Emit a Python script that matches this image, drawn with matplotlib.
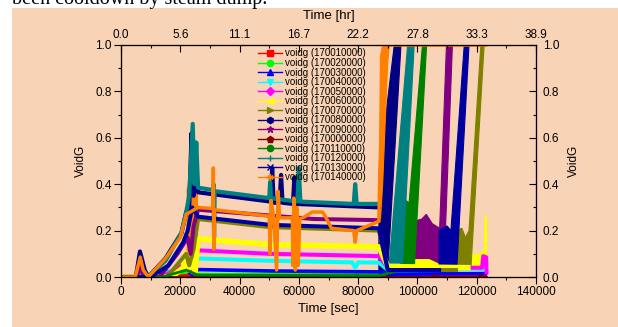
import matplotlib
matplotlib.use("Agg")
import matplotlib.pyplot as plt
from matplotlib.lines import Line2D
from matplotlib.patches import Rectangle
from matplotlib.ticker import MultipleLocator, FormatStrFormatter

plt.rcParams['font.family'] = ['Liberation Sans', 'DejaVu Sans']

# legend names
names = ["voidg (170010000)", "voidg (170020000)", "voidg (170030000)", "voidg (170040000)",
         "voidg (170050000)", "voidg (170060000)", "voidg (170070000)", "voidg (170080000)",
         "voidg (170090000)", "voidg (170000000)", "voidg (170110000)", "voidg (170120000)",
         "voidg (170130000)", "voidg (170140000)"]

sec_ticks = [0, 20000, 40000, 60000, 80000, 100000, 120000, 140000]
hr_labels = ["0.0", "5.6", "11.1", "16.7", "22.2", "27.8", "33.3", "38.9"]

# time [s] / void fraction (noisy bands -> envelope knots)
t_s01 = [0, 9000, 22000, 26000, 87000, 123000]
v_s01 = [0.0, 0.0, 0.01, 0.005, 0.005, 0.005]

t_s02 = [0, 9000, 22000, 26000, 87000, 90000, 123000]
v_s02 = [0.0, 0.0, 0.02, 0.013, 0.011, 0.015, 0.015]

t_s03 = [0, 10000, 21000, 24000, 26000, 50000, 87000, 90000, 123000]
v_s03 = [0.0, 0.0, 0.04, 0.01, 0.032, 0.026, 0.022, 0.012, 0.015]

t_s04 = [0, 12000, 22000, 24000, 26000, 50000, 78000, 79000, 80000, 87000, 90000, 123000]
v_s04 = [0.0, 0.0, 0.05, 0.02, 0.08, 0.07, 0.063, 0.04, 0.063, 0.062, 0.03, 0.035]

t_s05 = [0, 14000, 22000, 24000, 26000, 50000, 87000, 90000, 121800, 122200, 123200, 123300]
v_s05 = [0.0, 0.0, 0.06, 0.02, 0.115, 0.10, 0.09, 0.04, 0.04, 0.09, 0.085, 0.02]

t_s06 = [0, 17000, 21000, 21800, 22500, 23500, 25000, 26000, 50000, 87000, 90000, 117000]
v_s06 = [0.0, 0.0, 0.04, 0.1, 0.03, 0.08, 0.02, 0.165, 0.14, 0.13, 0.045, 0.04]
bx_s06a = [95000, 95000, 100000, 104000, 108000, 108000]
by_s06a = [0.03, 0.08, 0.09, 0.085, 0.065, 0.03]
bx_s06b = [117400, 117400, 120000, 122500, 122900, 123300, 123300]
by_s06b = [0.03, 0.10, 0.095, 0.11, 0.27, 0.25, 0.03]

t_s07 = [0, 15500, 22000, 23000, 24500, 26000, 50000, 87000, 90000, 113000]
v_s07 = [0.0, 0.0, 0.1, 0.05, 0.12, 0.25, 0.215, 0.20, 0.03, 0.03]
bx_s07 = [113000, 113000, 115000, 116200, 117400, 121400, 122500, 118000]
by_s07 = [0.03, 0.2, 0.21, 0.17, 0.2, 1.0, 1.0, 0.03]

t_s08 = [0, 5000, 6400, 8000, 9200, 15000, 20400, 22000, 23000, 23800, 24500, 25200, 26000,
         50500, 51000, 51500, 53500, 54000, 54500, 58000, 58500, 59000, 87000]
v_s08 = [0.0, 0.0, 0.11, 0.03, 0.0, 0.08, 0.19, 0.28, 0.3, 0.62, 0.35, 0.5, 0.365,
         0.325, 0.47, 0.32, 0.32, 0.44, 0.32, 0.315, 0.43, 0.315, 0.30]
bx_s08 = [87000, 87000, 92200, 94450, 89950]
by_s08 = [0.02, 0.45, 1.0, 1.0, 0.02]

t_s09 = [0, 5500, 6400, 7500, 13000, 19000, 22500, 23500, 24500, 26000, 50000, 65000, 87000]
v_s09 = [0.0, 0.0, 0.06, 0.0, 0.0, 0.1, 0.17, 0.1, 0.22, 0.29, 0.265, 0.25, 0.245]
bx_s09 = [98900, 98900, 101500, 103000, 105000, 107500, 109800, 111800, 109000, 104000]
by_s09 = [0.08, 0.24, 0.25, 0.27, 0.23, 0.21, 1.0, 1.0, 0.05, 0.08]

t_s10 = [0, 26400, 53200, 79400, 106000, 121100, 123000]
v_s10 = [0.0, 0.0, 0.0, 0.0, 0.0, 0.0, 0.0]

t_s11 = [0, 14000, 22000, 26000, 87000, 94400]
v_s11 = [0.0, 0.0, 0.03, 0.008, 0.006, 0.03]
bx_s11 = [94400, 94400, 96000, 97200, 101700, 103100, 98900]
by_s11 = [0.03, 0.31, 0.33, 0.32, 1.0, 1.0, 0.03]

t_s12 = [0, 9000, 15000, 20400, 22000, 23000, 24200, 24800, 25400, 26000,
         31000, 31200, 31400, 31600, 50000, 50300, 50600, 59500, 60000, 60500,
         78500, 79000, 79500, 87000]
v_s12 = [0.0, 0.0, 0.07, 0.19, 0.28, 0.35, 0.66, 0.4, 0.58, 0.385,
         0.375, 0.40, 0.17, 0.37, 0.34, 0.41, 0.34, 0.325, 0.47, 0.325,
         0.315, 0.40, 0.315, 0.315]
bx_s12 = [90500, 96700, 98900, 95000]
by_s12 = [0.06, 1.0, 1.0, 0.06]

t_s13 = [0, 10000, 16000, 21000, 22500, 24000, 26000, 50000, 87000, 90000, 107300]
v_s13 = [0.0, 0.0, 0.05, 0.15, 0.2, 0.3, 0.26, 0.225, 0.21, 0.03, 0.03]
bx_s13 = [107300, 107300, 110000, 111300, 115800, 117400, 113200]
by_s13 = [0.03, 0.2, 0.22, 0.2, 1.0, 1.0, 0.02]

t_s14 = [0, 4800, 6500, 7500, 9200, 15000, 20000, 22000, 26000, 31000, 31150, 31300, 31500,
         50000, 50300, 50600, 51500, 52500, 53000, 53500, 57800, 58000, 58300, 58800, 59300,
         59800, 60300, 62000, 64500, 68000, 69000, 71000, 78500, 79000, 79500, 87000,
         87300, 88500, 89000, 123000]
v_s14 = [0.0, 0.0, 0.086, 0.03, 0.0, 0.08, 0.17, 0.27, 0.30, 0.295, 0.47, 0.12, 0.29,
         0.262, 0.10, 0.33, 0.26, 0.03, 0.37, 0.255, 0.255, 0.05, 0.34, 0.03, 0.30,
         0.05, 0.25, 0.26, 0.28, 0.28, 0.26, 0.21, 0.20, 0.15, 0.20, 0.24,
         0.45, 0.9, 1.0, 1.0]
bx_s14a = [22300, 22300, 23500, 25800, 25800, 24000]
by_s14a = [0.05, 0.38, 0.40, 0.38, 0.03, 0.04]
bx_s14b = [86900, 87150, 87500, 88270, 90500, 89950, 88270, 87500]
by_s14b = [0.24, 0.40, 0.95, 1.0, 1.0, 0.92, 0.40, 0.24]

colors = ['#FF0000', '#00FF00', '#0000FF', '#00FFFF', '#FF00FF', '#FFFF00', '#808000',
          '#000080', '#800080', '#800000', '#008000', '#008080', '#0000A0', '#FF8000']
markers = ['s', 'o', '^', 'v', 'D', '<', '>', 'h', '*', 'p', 'o', '+', 'x', (6, 2, 0)]
widths = [2.0, 2.0, 2.6, 2.9, 2.9, 4.0, 2.9, 3.0, 2.9, 2.0, 2.0, 3.0, 2.9, 2.5]

lines = [(t_s01, v_s01), (t_s02, v_s02), (t_s03, v_s03), (t_s04, v_s04), (t_s05, v_s05),
         (t_s06, v_s06), (t_s07, v_s07), (t_s08, v_s08), (t_s09, v_s09), (t_s10, v_s10),
         (t_s11, v_s11), (t_s12, v_s12), (t_s13, v_s13), (t_s14, v_s14)]
bands = {5: [(bx_s06a, by_s06a), (bx_s06b, by_s06b)], 6: [(bx_s07, by_s07)],
         7: [(bx_s08, by_s08)], 8: [(bx_s09, by_s09)], 10: [(bx_s11, by_s11)],
         11: [(bx_s12, by_s12)], 12: [(bx_s13, by_s13)],
         13: [(bx_s14a, by_s14a), (bx_s14b, by_s14b)]}

peach = '#F9D3B5'
fig = plt.figure(figsize=(6.18, 3.27), dpi=100)
fig.patch.set_facecolor('white')
fig.patches.append(Rectangle((12 / 618, 0), 606 / 618, 319 / 327, transform=fig.transFigure,
                             facecolor=peach, edgecolor='none', zorder=-10))
fig.text(12 / 618, 1 - 4 / 327, "been cooldown by steam dump.", family='Liberation Serif',
         fontsize=14.5, ha='left', va='baseline')

ax = fig.add_axes([121 / 618, 50 / 327, 415 / 618, 232 / 327])
ax.set_facecolor(peach)

for i, (t, v) in enumerate(lines):
    if i == 9:
        ax.plot(t, v, color=colors[i], lw=widths[i], marker='p', ms=5, markevery=[1, 2, 3, 4, 5])
    else:
        ax.plot(t, v, color=colors[i], lw=widths[i], solid_joinstyle='round')
    for bx, by in bands.get(i, []):
        ax.fill(bx, by, color=colors[i], lw=0.8)

ax.set_xlim(0, 140000)
ax.set_ylim(0, 1)
ax.set_xticks(sec_ticks)
ax.xaxis.set_minor_locator(MultipleLocator(10000))
ax.yaxis.set_major_locator(MultipleLocator(0.2))
ax.yaxis.set_minor_locator(MultipleLocator(0.1))
ax.yaxis.set_major_formatter(FormatStrFormatter('%.1f'))
ax.tick_params(which='major', direction='out', length=4.8, width=0.8, labelsize=8.5, pad=2)
ax.tick_params(which='minor', direction='out', length=2.2, width=0.8)
ax.set_xlabel("Time [sec]", fontsize=9.5, labelpad=3)
ax.set_ylabel("VoidG", fontsize=8.5, labelpad=6)

top = ax.twiny()
top.set_xlim(0, 140000)
top.set_xticks(sec_ticks)
top.set_xticklabels(hr_labels)
top.xaxis.set_minor_locator(MultipleLocator(10000))
top.tick_params(which='major', direction='in', length=4.8, width=0.8, labelsize=8.5, pad=3)
top.tick_params(which='minor', direction='in', length=2.2, width=0.8)
top.set_xlabel("Time [hr]", fontsize=9.5, labelpad=7)

right = ax.twinx()
right.set_ylim(0, 1)
right.yaxis.set_major_locator(MultipleLocator(0.2))
right.yaxis.set_minor_locator(MultipleLocator(0.1))
right.yaxis.set_major_formatter(FormatStrFormatter('%.1f'))
right.tick_params(which='major', direction='in', length=4.8, width=0.8, labelsize=8.5, pad=5)
right.tick_params(which='minor', direction='in', length=2.2, width=0.8)
right.set_ylabel("VoidG", fontsize=8.5, labelpad=6)

for a in (ax, top, right):
    for s in a.spines.values():
        s.set_linewidth(0.8)

handles = [Line2D([], [], color=colors[i], lw=1.0, marker=markers[i], ms=4.5,
                  markeredgewidth=1.0) for i in range(14)]
right.legend(handles, names, loc='upper left', bbox_to_anchor=(0.33, 0.985), frameon=False,
             fontsize=7, handlelength=2.5, handletextpad=0.3, labelspacing=-0.05,
             borderpad=0, borderaxespad=0)

fig.savefig("out.png", dpi=100)
